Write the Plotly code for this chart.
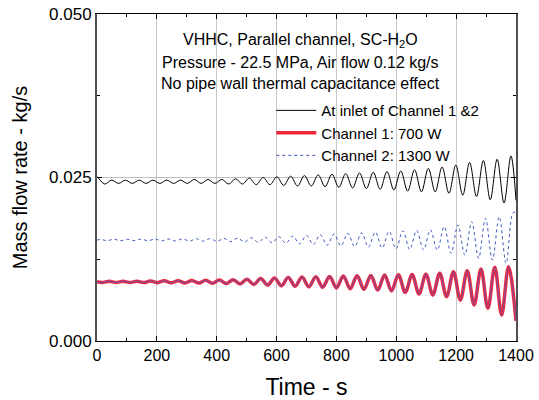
import plotly.graph_objects as go

# ---- data (extremes) ----
t_inlet = [0, 3, 26, 49, 72, 95, 118, 141, 164, 187, 210, 233, 256, 279, 302, 325, 348, 371, 394, 417, 440,
           463, 486, 509, 532, 555, 578, 601, 624, 647, 670, 693, 716, 739, 762, 785, 808, 831, 854, 877, 900,
           923, 946, 969, 992, 1015, 1038, 1061, 1084, 1107, 1130, 1153, 1176, 1199, 1222, 1245, 1268, 1291,
           1314, 1337, 1360, 1383, 1400]
m_inlet = [0.0251, 0.0250, 0.0240, 0.0246, 0.0241, 0.0246, 0.0241, 0.0246, 0.0241, 0.0246, 0.0241, 0.0246,
           0.0241, 0.0246, 0.0241, 0.0247, 0.0241, 0.0247, 0.0241, 0.0247, 0.0240, 0.0248, 0.0240, 0.0249,
           0.0239, 0.0250, 0.0239, 0.0251, 0.0238, 0.0252, 0.0237, 0.0253, 0.0237, 0.0254, 0.0236, 0.0255,
           0.0235, 0.0256, 0.0234, 0.0257, 0.0233, 0.0258, 0.0232, 0.0259, 0.0231, 0.0260, 0.0229, 0.0262,
           0.0228, 0.0264, 0.0228, 0.0266, 0.0226, 0.0269, 0.0223, 0.0273, 0.0221, 0.0276, 0.0216, 0.0278,
           0.0211, 0.0283, 0.0215]

t_ch1 = [0, 18, 41, 64, 87, 110, 133, 156, 179, 202, 225, 248, 271, 294, 317, 340, 363, 386, 409, 432, 455,
         478, 501, 524, 547, 570, 593, 616, 639, 662, 685, 708, 731, 754, 777, 800, 823, 846, 869, 892, 915,
         938, 961, 984, 1007, 1030, 1053, 1076, 1099, 1122, 1145, 1168, 1191, 1214, 1237, 1260, 1283, 1306,
         1329, 1352, 1375, 1400]
m_ch1 = [0.00905, 0.00895, 0.00915, 0.00895, 0.00915, 0.00895, 0.00915, 0.00893, 0.00918, 0.00892, 0.00920,
         0.00890, 0.00922, 0.00888, 0.00925, 0.00885, 0.00928, 0.00882, 0.00932, 0.00878, 0.00938, 0.00872,
         0.00945, 0.00865, 0.00955, 0.00855, 0.00965, 0.00845, 0.00972, 0.00838, 0.00978, 0.00830, 0.00983,
         0.00822, 0.00988, 0.00812, 0.00993, 0.00800, 0.00998, 0.00790, 0.01003, 0.00778, 0.01008, 0.00765,
         0.01012, 0.00745, 0.01015, 0.00720, 0.01022, 0.00703, 0.01035, 0.00678, 0.01060, 0.00627, 0.01075,
         0.00550, 0.01100, 0.00500, 0.01127, 0.00398, 0.01136, 0.00310]

t_ch2 = [0, 10, 33, 56, 79, 102, 125, 148, 171, 194, 217, 240, 263, 286, 309, 332, 355, 378, 401, 424, 447,
         470, 493, 516, 539, 562, 585, 608, 631, 654, 677, 700, 723, 746, 769, 792, 815, 838, 861, 884, 907,
         930, 953, 976, 999, 1022, 1045, 1068, 1091, 1114, 1137, 1160, 1183, 1206, 1229, 1252, 1275, 1298,
         1321, 1344, 1367, 1390, 1400]
m_ch2 = [0.01540, 0.01555, 0.01535, 0.01555, 0.01535, 0.01555, 0.01535, 0.01556, 0.01534, 0.01558, 0.01532,
         0.01560, 0.01530, 0.01562, 0.01528, 0.01564, 0.01526, 0.01566, 0.01524, 0.01568, 0.01520, 0.01572,
         0.01515, 0.01578, 0.01510, 0.01585, 0.01502, 0.01595, 0.01495, 0.01605, 0.01485, 0.01615, 0.01475,
         0.01625, 0.01465, 0.01635, 0.01455, 0.01645, 0.01445, 0.01655, 0.01435, 0.01665, 0.01422, 0.01675,
         0.01410, 0.01685, 0.01400, 0.01690, 0.01395, 0.01700, 0.01390, 0.01748, 0.01341, 0.01775, 0.01315,
         0.01825, 0.01264, 0.01876, 0.01239, 0.01900, 0.01188, 0.01960, 0.01970]

x_ticks = [0, 200, 400, 600, 800, 1000, 1200, 1400]
y_ticks = [0.000, 0.025, 0.050]
y_tick_text = ["0.000", "0.025", "0.050"]
names = ["At inlet of Channel 1 &2", "Channel 1: 700 W", "Channel 2: 1300 W"]
title_lines = ["VHHC, Parallel channel, SC-H<sub>2</sub>O",
               "Pressure - 22.5 MPa, Air flow 0.12 kg/s",
               "No pipe wall thermal capacitance effect"]
title_y = [0.920, 0.853, 0.786]

FONT = "Liberation Sans, Arial, sans-serif"

fig = go.Figure()
fig.add_trace(go.Scatter(x=t_inlet, y=m_inlet, mode="lines", name=names[0],
                         line=dict(color="black", width=1, shape="spline", smoothing=1)))
fig.add_trace(go.Scatter(x=t_ch1, y=m_ch1, mode="lines", name=names[1],
                         line=dict(color="rgb(240,40,60)", width=3.5, shape="spline", smoothing=1)))
fig.add_trace(go.Scatter(x=t_ch1, y=m_ch1, mode="lines", showlegend=False, hoverinfo="skip",
                         line=dict(color="rgba(110,80,170,0.85)", width=1.2, shape="spline", smoothing=1)))
fig.add_trace(go.Scatter(x=t_ch2, y=m_ch2, mode="lines", name=names[2],
                         line=dict(color="rgb(60,90,190)", width=1, dash="dot", shape="spline", smoothing=1)))

fig.update_layout(
    width=539, height=400,
    margin=dict(l=97, r=23, t=14, b=59),
    paper_bgcolor="white", plot_bgcolor="white",
    font=dict(family=FONT, size=16, color="black"),
    showlegend=True,
    legend=dict(x=0.416, y=0.755, xanchor="left", yanchor="top",
                bgcolor="rgba(0,0,0,0)", font=dict(size=15, family=FONT),
                tracegroupgap=0, itemwidth=40),
    annotations=[dict(text=txt, x=0.485, y=yy, xref="paper", yref="paper",
                      xanchor="center", yanchor="middle", showarrow=False,
                      font=dict(size=16, family=FONT))
                 for txt, yy in zip(title_lines, title_y)],
)
fig.update_xaxes(range=[0, 1400], tickvals=x_ticks, ticks="inside", ticklen=5, tickcolor="black",
                 showline=True, linecolor="black", linewidth=1, mirror="ticks", automargin=False,
                 showgrid=True, gridcolor="rgb(200,200,200)", gridwidth=1, zeroline=False,
                 minor=dict(dtick=100, ticks="inside", ticklen=3, tickcolor="black", showgrid=False),
                 title=dict(text="Time - s", font=dict(size=23, family=FONT), standoff=15),
                 tickfont=dict(size=16, family=FONT))
fig.update_yaxes(range=[0, 0.05], tickvals=y_ticks, ticktext=y_tick_text, ticks="inside", ticklen=5,
                 tickcolor="black", showline=True, linecolor="rgb(80,80,80)", linewidth=2, mirror="ticks",
                 automargin=False,
                 showgrid=True, gridcolor="rgb(190,190,190)", gridwidth=1, zeroline=False,
                 minor=dict(dtick=0.0125, ticks="inside", ticklen=3, tickcolor="black", showgrid=False),
                 title=dict(text="Mass flow rate - kg/s", font=dict(size=20, family=FONT), standoff=16),
                 tickfont=dict(size=17, family=FONT))

fig.write_html("out.html")
